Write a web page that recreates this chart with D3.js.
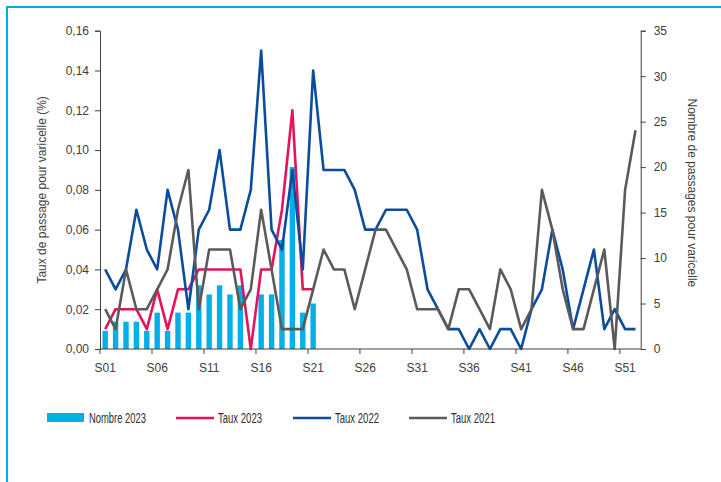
<!DOCTYPE html>
<html>
<head>
<meta charset="utf-8">
<script src="https://cdn.jsdelivr.net/npm/d3@7"></script>
<style>
  html, body { margin: 0; padding: 0; background: #fff; }
  svg { display: block; }
  text { font-family: "Liberation Sans", Arial, sans-serif; fill: #404040; }
  .legend text { font-family: "Liberation Sans Narrow", "Liberation Sans", Arial, sans-serif; fill: #303030; }
</style>
</head>
<body>
<svg id="chart" width="721" height="482"></svg>
<script>
// Semaines S01..S52
const weeks = d3.range(1, 53).map(d => "S" + String(d).padStart(2, "0"));
const weekTicks = ["S01", "S06", "S11", "S16", "S21", "S26", "S31", "S36", "S41", "S46", "S51"];

// Nombre de passages pour varicelle, 2023 (axe droit)
const nombre2023 = [2, 3, 3, 3, 2, 4, 2, 4, 4, 7, 6, 7, 6, 7, 0, 6, 6, 12, 20, 4, 5];

// Taux de passage pour varicelle (%) (axe gauche)
const taux2023 = [0.01, 0.02, 0.02, 0.02, 0.01, 0.03, 0.01, 0.03, 0.03, 0.04,
                  0.04, 0.04, 0.04, 0.04, 0.00, 0.04, 0.04, 0.07, 0.12, 0.03, 0.03];

const taux2022 = [0.04, 0.03, 0.04, 0.07, 0.05, 0.04, 0.08, 0.06, 0.02, 0.06,
                  0.07, 0.10, 0.06, 0.06, 0.08, 0.15, 0.06, 0.05, 0.09, 0.04,
                  0.14, 0.09, 0.09, 0.09, 0.08, 0.06, 0.06, 0.07, 0.07, 0.07,
                  0.06, 0.03, 0.02, 0.01, 0.01, 0.00, 0.01, 0.00, 0.01, 0.01,
                  0.00, 0.02, 0.03, 0.06, 0.04, 0.01, 0.03, 0.05, 0.01, 0.02,
                  0.01, 0.01];

const taux2021 = [0.02, 0.01, 0.04, 0.02, 0.02, 0.03, 0.04, 0.07, 0.09, 0.02,
                  0.05, 0.05, 0.05, 0.02, 0.03, 0.07, 0.04, 0.01, 0.01, 0.01,
                  0.03, 0.05, 0.04, 0.04, 0.02, 0.04, 0.06, 0.06, 0.05, 0.04,
                  0.02, 0.02, 0.02, 0.01, 0.03, 0.03, 0.02, 0.01, 0.04, 0.03,
                  0.01, 0.02, 0.08, 0.06, 0.03, 0.01, 0.01, 0.03, 0.05, 0.00,
                  0.08, 0.11];

const leftTicks = [0, 0.02, 0.04, 0.06, 0.08, 0.10, 0.12, 0.14, 0.16];
const rightTicks = [0, 5, 10, 15, 20, 25, 30, 35];

const series = [
  { name: "Taux 2023", values: taux2023, color: "#e5135b" },
  { name: "Taux 2022", values: taux2022, color: "#0b4c9c" },
  { name: "Taux 2021", values: taux2021, color: "#5a5a5a" }
];

const svg = d3.select("#chart");
const plot = { left: 100, right: 640.7, top: 30.7, bottom: 349 };
const axisColor = "#404040";

// Cadre
svg.append("path")
  .attr("d", "M7,482 L7,7 L721,7")
  .attr("fill", "none")
  .attr("stroke", "#00aee3")
  .attr("stroke-width", 2);

const step = (plot.right - plot.left) / weeks.length;
const xc = d => plot.left + (weeks.indexOf(d) + 0.5) * step;
const yL = d3.scaleLinear().domain([0, 0.16]).range([plot.bottom, plot.top]);
const yR = d3.scaleLinear().domain([0, 35]).range([plot.bottom, plot.top]);

// Barres : nombre 2023
const barW = step * 0.52;
svg.append("g").selectAll("rect")
  .data(nombre2023)
  .join("rect")
  .attr("x", (d, i) => xc(weeks[i]) - barW / 2)
  .attr("y", d => yR(d))
  .attr("width", barW)
  .attr("height", d => plot.bottom - yR(d))
  .attr("fill", "#00b0e6");

// Courbes des taux
const line = d3.line()
  .x((d, i) => xc(weeks[i]))
  .y(d => yL(d));

svg.append("g").selectAll("path")
  .data(series)
  .join("path")
  .attr("d", s => line(s.values))
  .attr("fill", "none")
  .attr("stroke", s => s.color)
  .attr("stroke-width", 2.6)
  .attr("stroke-linejoin", "round");

// Axe gauche
const axL = svg.append("g")
  .attr("transform", `translate(${plot.left},0)`)
  .call(d3.axisLeft(yL).tickValues(leftTicks).tickSize(5).tickPadding(6)
    .tickFormat(d => d3.format(".2f")(d).replace(".", ",")));
axL.select(".domain").attr("stroke", axisColor);
axL.selectAll(".tick line").attr("stroke", axisColor);
axL.selectAll("text").attr("font-size", 12).attr("fill", "#404040").attr("font-family", null);

// Axe droit
const axR = svg.append("g")
  .attr("transform", `translate(${plot.right},0)`)
  .call(d3.axisRight(yR).tickValues(rightTicks).tickSize(5).tickPadding(8));
axR.select(".domain").attr("stroke", axisColor);
axR.selectAll(".tick line").attr("stroke", axisColor);
axR.selectAll("text").attr("font-size", 12).attr("fill", "#404040").attr("font-family", null);

// Axe des semaines
const xAxis = svg.append("g");
xAxis.append("line")
  .attr("x1", plot.left).attr("x2", plot.right)
  .attr("y1", plot.bottom).attr("y2", plot.bottom)
  .attr("stroke", axisColor);
xAxis.selectAll("line.tk")
  .data(weekTicks)
  .join("line")
  .attr("class", "tk")
  .attr("x1", d => xc(d) - step / 2).attr("x2", d => xc(d) - step / 2)
  .attr("y1", plot.bottom).attr("y2", plot.bottom + 5)
  .attr("stroke", axisColor);
xAxis.selectAll("text")
  .data(weekTicks)
  .join("text")
  .attr("x", d => xc(d))
  .attr("y", plot.bottom + 23)
  .attr("text-anchor", "middle")
  .attr("font-size", 12)
  .text(d => d);

// Titres des axes
svg.append("text")
  .attr("transform", `translate(46,${(plot.top + plot.bottom) / 2}) rotate(-90)`)
  .attr("text-anchor", "middle")
  .attr("font-size", 12)
  .text("Taux de passage pour varicelle (%)");
svg.append("text")
  .attr("transform", `translate(688,${(plot.top + plot.bottom) / 2 + 3}) rotate(90)`)
  .attr("text-anchor", "middle")
  .attr("font-size", 12)
  .text("Nombre de passages pour varicelle");

// Légende (texte condensé)
const legend = svg.append("g").attr("class", "legend");
const legendItems = [
  { name: "Nombre 2023", type: "bar", color: "#00b0e6", x: 47, w: 57 },
  { name: "Taux 2023", type: "line", color: series[0].color, x: 176, w: 44 },
  { name: "Taux 2022", type: "line", color: series[1].color, x: 293, w: 44 },
  { name: "Taux 2021", type: "line", color: series[2].color, x: 409, w: 44 }
];
const ly = 418;
legendItems.forEach(it => {
  if (it.type === "bar") {
    legend.append("rect").attr("x", it.x).attr("y", ly - 5).attr("width", 37).attr("height", 9).attr("fill", it.color);
  } else {
    legend.append("line").attr("x1", it.x).attr("x2", it.x + 38).attr("y1", ly).attr("y2", ly)
      .attr("stroke", it.color).attr("stroke-width", 2.5);
  }
  legend.append("text")
    .attr("x", it.x + 42).attr("y", ly + 5)
    .attr("font-size", 14)
    .attr("textLength", it.w)
    .attr("lengthAdjust", "spacingAndGlyphs")
    .text(it.name);
});
</script>
</body>
</html>
